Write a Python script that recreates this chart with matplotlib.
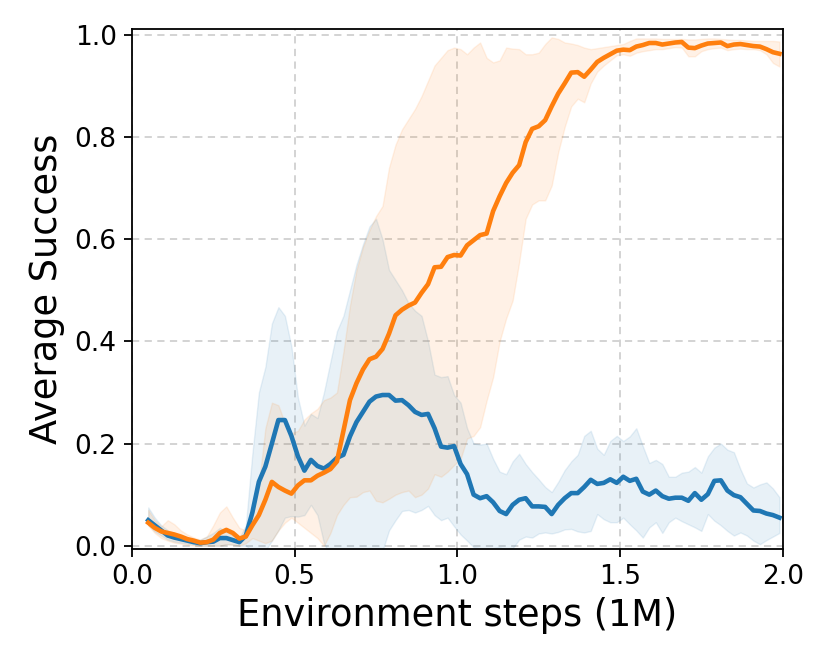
import numpy as np
import matplotlib
matplotlib.use("Agg")
import matplotlib.pyplot as plt

# environment steps (millions)
steps = np.round(np.arange(0.05, 2.0, 0.02), 2)

blue_mean = [0.050, 0.040, 0.030, 0.020, 0.016, 0.013, 0.010, 0.007, 0.005, 0.007,
             0.008, 0.015, 0.015, 0.011, 0.007, 0.020, 0.065, 0.125, 0.155, 0.200,
             0.246, 0.246, 0.215, 0.175, 0.147, 0.168, 0.156, 0.151, 0.160, 0.172,
             0.178, 0.214, 0.242, 0.262, 0.282, 0.292, 0.295, 0.295, 0.284, 0.285,
             0.275, 0.262, 0.256, 0.258, 0.230, 0.194, 0.192, 0.195, 0.160, 0.140,
             0.100, 0.093, 0.097, 0.085, 0.068, 0.062, 0.080, 0.090, 0.093, 0.077,
             0.077, 0.076, 0.062, 0.080, 0.093, 0.103, 0.103, 0.115, 0.129, 0.121,
             0.123, 0.130, 0.123, 0.135, 0.127, 0.131, 0.106, 0.100, 0.108, 0.097,
             0.092, 0.094, 0.094, 0.088, 0.103, 0.090, 0.101, 0.127, 0.128, 0.108,
             0.099, 0.095, 0.082, 0.069, 0.068, 0.063, 0.060, 0.055]

blue_upper = [0.075, 0.055, 0.040, 0.030, 0.025, 0.020, 0.015, 0.012, 0.012, 0.018,
              0.025, 0.035, 0.028, 0.020, 0.015, 0.040, 0.180, 0.300, 0.350, 0.435,
              0.467, 0.450, 0.390, 0.290, 0.235, 0.258, 0.250, 0.300, 0.360, 0.420,
              0.450, 0.500, 0.550, 0.590, 0.625, 0.640, 0.600, 0.540, 0.520, 0.500,
              0.475, 0.460, 0.450, 0.400, 0.335, 0.330, 0.332, 0.295, 0.280, 0.230,
              0.200, 0.198, 0.200, 0.170, 0.145, 0.140, 0.165, 0.180, 0.160, 0.144,
              0.130, 0.115, 0.105, 0.125, 0.148, 0.165, 0.178, 0.215, 0.225, 0.190,
              0.178, 0.205, 0.215, 0.205, 0.214, 0.230, 0.195, 0.162, 0.168, 0.160,
              0.135, 0.135, 0.143, 0.145, 0.154, 0.143, 0.175, 0.192, 0.200, 0.188,
              0.183, 0.150, 0.122, 0.114, 0.120, 0.124, 0.112, 0.095]

blue_lower = [0.040, 0.028, 0.020, 0.012, 0.008, 0.006, 0.004, 0.002, 0.000, 0.000,
              0.000, 0.000, 0.003, 0.002, 0.000, 0.000, -0.010, -0.010, -0.010, 0.010,
              0.030, 0.055, 0.058, 0.057, 0.060, 0.080, 0.060, 0.005, -0.020, -0.030,
              -0.030, -0.030, -0.030, -0.030, -0.030, -0.030, -0.010, 0.030, 0.050, 0.068,
              0.070, 0.065, 0.070, 0.078, 0.060, 0.050, 0.055, 0.038, 0.022, 0.010,
              -0.003, -0.005, -0.005, -0.005, -0.003, -0.008, -0.005, 0.012, 0.018, 0.016,
              0.024, 0.026, 0.024, 0.027, 0.032, 0.033, 0.028, 0.026, 0.029, 0.062,
              0.052, 0.046, 0.046, 0.055, 0.042, 0.030, 0.016, 0.036, 0.046, 0.025,
              0.046, 0.055, 0.048, 0.042, 0.036, 0.029, 0.062, 0.049, 0.040, 0.029,
              0.020, 0.026, 0.020, 0.010, 0.003, 0.011, 0.018, 0.025]

orange_mean = [0.045, 0.035, 0.028, 0.025, 0.022, 0.018, 0.013, 0.010, 0.006, 0.007,
               0.012, 0.025, 0.031, 0.025, 0.014, 0.018, 0.040, 0.060, 0.090, 0.125,
               0.115, 0.108, 0.102, 0.118, 0.128, 0.128, 0.137, 0.143, 0.150, 0.165,
               0.225, 0.285, 0.318, 0.345, 0.365, 0.370, 0.385, 0.415, 0.451, 0.462,
               0.470, 0.476, 0.495, 0.512, 0.545, 0.546, 0.565, 0.569, 0.568, 0.588,
               0.598, 0.608, 0.611, 0.655, 0.684, 0.710, 0.730, 0.745, 0.790, 0.816,
               0.821, 0.833, 0.860, 0.885, 0.905, 0.926, 0.927, 0.918, 0.932, 0.947,
               0.955, 0.962, 0.969, 0.971, 0.970, 0.977, 0.980, 0.984, 0.984, 0.981,
               0.983, 0.985, 0.986, 0.975, 0.974, 0.979, 0.983, 0.984, 0.985, 0.978,
               0.981, 0.982, 0.980, 0.978, 0.977, 0.972, 0.966, 0.963]

orange_upper = [0.070, 0.050, 0.038, 0.050, 0.042, 0.030, 0.022, 0.016, 0.012, 0.018,
                0.040, 0.065, 0.077, 0.055, 0.035, 0.030, 0.060, 0.120, 0.230, 0.280,
                0.275, 0.240, 0.220, 0.225, 0.247, 0.259, 0.268, 0.285, 0.290, 0.300,
                0.380, 0.470, 0.540, 0.585, 0.618, 0.645, 0.665, 0.740, 0.785, 0.815,
                0.835, 0.855, 0.880, 0.910, 0.940, 0.955, 0.970, 0.975, 0.972, 0.962,
                0.975, 0.985, 0.955, 0.946, 0.950, 0.975, 0.973, 0.972, 0.962, 0.962,
                0.965, 0.982, 0.995, 0.992, 0.985, 0.983, 0.980, 0.975, 0.972, 0.974,
                0.976, 0.978, 0.980, 0.982, 0.988, 0.993, 0.993, 0.993, 0.993, 0.992,
                0.992, 0.992, 0.992, 0.991, 0.991, 0.992, 0.993, 0.993, 0.992, 0.991,
                0.990, 0.990, 0.989, 0.988, 0.988, 0.988, 0.988, 0.987]

orange_lower = [0.040, 0.025, 0.015, 0.010, 0.006, 0.004, 0.002, 0.000, 0.000, 0.000,
                0.000, 0.000, 0.003, 0.002, 0.000, 0.005, 0.015, 0.010, 0.005, 0.010,
                0.030, 0.045, 0.055, 0.045, 0.035, 0.025, 0.015, 0.000, 0.025, 0.060,
                0.080, 0.095, 0.096, 0.105, 0.108, 0.088, 0.085, 0.092, 0.100, 0.105,
                0.108, 0.095, 0.100, 0.112, 0.140, 0.135, 0.145, 0.158, 0.170, 0.210,
                0.215, 0.232, 0.284, 0.330, 0.400, 0.445, 0.480, 0.555, 0.640, 0.668,
                0.676, 0.676, 0.705, 0.770, 0.820, 0.860, 0.875, 0.868, 0.905, 0.928,
                0.940, 0.950, 0.960, 0.962, 0.959, 0.965, 0.968, 0.970, 0.972, 0.972,
                0.974, 0.976, 0.975, 0.958, 0.958, 0.968, 0.972, 0.974, 0.975, 0.970,
                0.972, 0.973, 0.972, 0.972, 0.970, 0.962, 0.945, 0.938]

x_ticks = [0.0, 0.5, 1.0, 1.5, 2.0]
y_ticks = [0.0, 0.2, 0.4, 0.6, 0.8, 1.0]

fig = plt.figure(figsize=(8.3, 6.64), dpi=100)
ax = fig.add_axes([0.159, 0.1735, 0.784, 0.7825])

ax.grid(True, linestyle=(0, (4, 3)), color='#d0d0d0', linewidth=1.3)
ax.set_axisbelow(True)

for mean, lo, hi, col in [(blue_mean, blue_lower, blue_upper, '#1f77b4'),
                          (orange_mean, orange_lower, orange_upper, '#ff7f0e')]:
    ax.fill_between(steps, lo, hi, color=col, alpha=0.1)

ax.plot(steps, blue_mean, color='#1f77b4', linewidth=3.3)
ax.plot(steps, orange_mean, color='#ff7f0e', linewidth=3.3)

ax.set_xlim(0, 2.0)
ax.set_ylim(-0.006, 1.011)
ax.set_xticks(x_ticks)
ax.set_yticks(y_ticks)
ax.set_xticklabels([f"{v:.1f}" for v in x_ticks])
ax.set_yticklabels([f"{v:.1f}" for v in y_ticks])
ax.tick_params(labelsize=19, length=6, width=1.3, pad=5)
for s in ax.spines.values():
    s.set_linewidth(1.3)

ax.set_xlabel("Environment steps (1M)", fontsize=26.5, labelpad=5)
ax.set_ylabel("Average Success", fontsize=26.5, labelpad=7)

fig.savefig("out.png", dpi=100)
